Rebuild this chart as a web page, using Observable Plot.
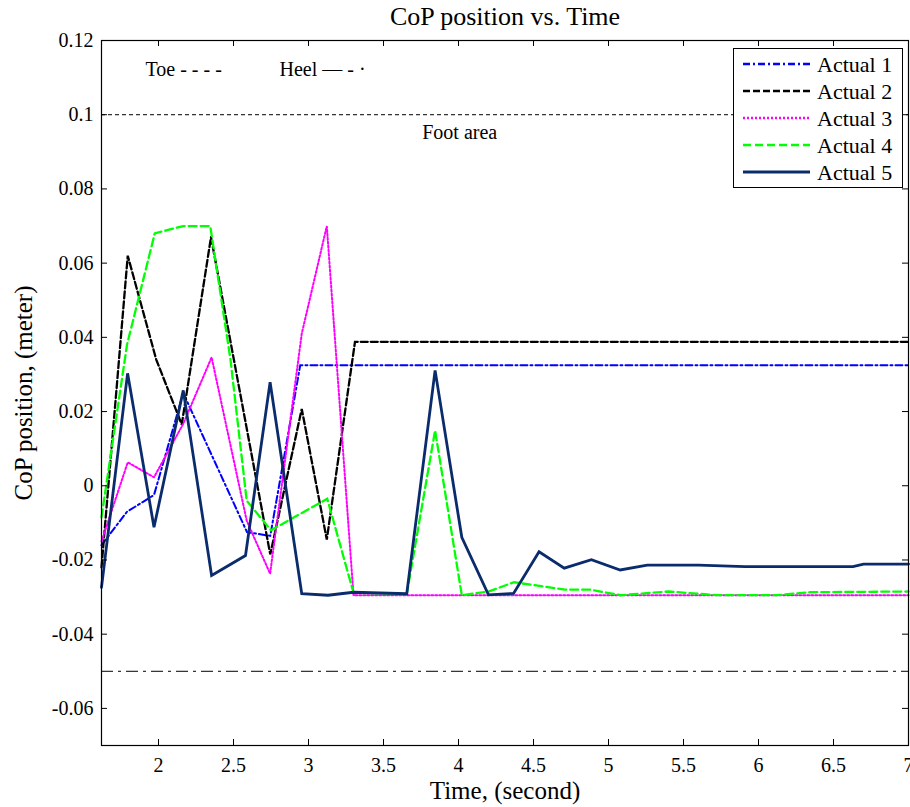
<!DOCTYPE html>
<html>
<head>
<meta charset="utf-8">
<script src="https://cdn.jsdelivr.net/npm/d3@7"></script>
<script src="https://cdn.jsdelivr.net/npm/@observablehq/plot@0.6"></script>
<style>
  body { margin: 0; background: #fff; }
  #wrap { position: relative; width: 910px; height: 807px; font-family: "Liberation Serif", "Times New Roman", serif; }
  #legend { position: absolute; left: 733px; top: 48px; }
</style>
</head>
<body>
<div id="wrap"><div id="chart"></div><div id="legend"></div></div>
<script>
// ---------- data ----------
const seriesNames = ["Actual 1", "Actual 2", "Actual 3", "Actual 4", "Actual 5"];

const t1 = [1.62, 1.79, 1.97, 2.165, 2.59, 2.745, 2.945, 7.0];
const y1 = [-0.016, -0.007, -0.0025, 0.025, -0.0125, -0.0135, 0.0325, 0.0325];

const t2 = [1.62, 1.795, 1.985, 2.155, 2.35, 2.745, 2.955, 3.122, 3.31, 7.0];
const y2 = [-0.022, 0.062, 0.034, 0.0165, 0.067, -0.0185, 0.0207, -0.0145, 0.0388, 0.0388];

const t3 = [1.62, 1.795, 1.97, 2.165, 2.354, 2.588, 2.744, 2.955, 3.122, 3.30, 7.0];
const y3 = [-0.015, 0.0063, 0.0023, 0.0167, 0.0346, -0.0094, -0.0237, 0.041, 0.070, -0.0295, -0.0295];

const t4 = [1.62, 1.79, 1.975, 2.165, 2.345, 2.48, 2.588, 2.75, 3.125, 3.30, 3.655, 3.844, 4.022, 4.2, 4.37, 4.54, 4.71, 4.88, 5.08, 5.4, 5.73, 6.12, 6.34, 7.0];
const y4 = [-0.0085, 0.038, 0.068, 0.070, 0.070, 0.034, -0.004, -0.012, -0.0035, -0.0288, -0.0292, 0.0149, -0.0295, -0.0285, -0.026, -0.027, -0.028, -0.028, -0.0295, -0.0285, -0.0295, -0.0295, -0.0287, -0.0285];

const t5 = [1.62, 1.794, 1.97, 2.165, 2.354, 2.58, 2.744, 2.955, 3.13, 3.30, 3.655, 3.844, 4.022, 4.2, 4.367, 4.537, 4.705, 4.886, 5.078, 5.258, 5.6, 5.91, 6.63, 6.7, 7.0];
const y5 = [-0.0274, 0.0303, -0.0112, 0.0257, -0.0242, -0.0188, 0.0279, -0.0291, -0.0295, -0.0287, -0.0291, 0.0311, -0.0139, -0.0294, -0.029, -0.0178, -0.0222, -0.0199, -0.0227, -0.0214, -0.0214, -0.0218, -0.0218, -0.0211, -0.0211];

const toeLevel = [0.1];
const heelLevel = [-0.05];

const xTicks = [2, 2.5, 3, 3.5, 4, 4.5, 5, 5.5, 6, 6.5, 7];
const yTicks = [-0.06, -0.04, -0.02, 0, 0.02, 0.04, 0.06, 0.08, 0.1, 0.12];

const noteText = ["Toe - - - -", "Heel \u2014 - \u00b7", "Foot area"];
const noteX = [1.913, 2.807, 3.758];
const noteY = [0.1121, 0.1121, 0.0953];

const titleText = "CoP position vs. Time";
const xLabel = "Time, (second)";
const yLabel = "CoP position, (meter)";

// ---------- styles ----------
const colors = ["#0000ff", "#000000", "#ff00ff", "#00ff00", "#0b2c6c"];
const dashes = ["7,3,2,3", "7,3", "2,2", "8,4", null];
const widths = [2, 2.3, 2, 2.3, 2.8];

const W = 910, H = 807, mL = 101, mR = 2, mT = 40, mB = 62;
const plotW = W - mL - mR, plotH = H - mT - mB;

const allT = [t1, t2, t3, t4, t5], allY = [y1, y2, y3, y4, y5];
const rows = [];
seriesNames.forEach((s, i) => allT[i].forEach((t, j) => rows.push({series: s, t, v: allY[i][j]})));
const notes = noteText.map((text, i) => ({text, x: noteX[i], y: noteY[i]}));
const fmt = d => String(+d.toFixed(2));

const marks = [
  Plot.ruleY(toeLevel, {y: d => d, stroke: "black", strokeWidth: 1, strokeDasharray: "4,3"}),
  Plot.ruleY(heelLevel, {y: d => d, stroke: "black", strokeWidth: 1, strokeDasharray: "12,5,3,5"}),
  ...seriesNames.map((s, i) => Plot.line(rows.filter(r => r.series === s), {
    x: "t", y: "v", stroke: colors[i], strokeWidth: widths[i],
    strokeDasharray: dashes[i] ?? undefined, strokeLinejoin: "miter", strokeMiterlimit: 3
  })),
  Plot.text(notes, {x: "x", y: "y", text: "text", textAnchor: "start", fontSize: 20, fill: "black"}),
  Plot.frame({stroke: "black", strokeWidth: 1.2}),
  Plot.tickX(xTicks, {x: d => d, stroke: "black", insetTop: plotH - 6}),
  Plot.tickX(xTicks, {x: d => d, stroke: "black", insetBottom: plotH - 6}),
  Plot.tickY(yTicks, {y: d => d, stroke: "black", insetRight: plotW - 6}),
  Plot.tickY(yTicks, {y: d => d, stroke: "black", insetLeft: plotW - 6}),
  Plot.axisX(xTicks, {tickSize: 0, tickPadding: 12, fontSize: 20, tickFormat: fmt, label: null}),
  Plot.axisY(yTicks, {tickSize: 0, tickPadding: 8, fontSize: 20, tickFormat: fmt, label: null}),
  Plot.text([titleText], {text: d => d, frameAnchor: "top", lineAnchor: "middle", textAnchor: "middle", dy: -24, fontSize: 26}),
  Plot.text([xLabel], {text: d => d, frameAnchor: "bottom", lineAnchor: "middle", textAnchor: "middle", dy: 45, fontSize: 25}),
  Plot.text([yLabel], {text: d => d, frameAnchor: "left", lineAnchor: "middle", textAnchor: "middle", dx: -78, rotate: -90, fontSize: 25})
];

const chart = Plot.plot({
  width: W, height: H,
  marginLeft: mL, marginRight: mR, marginTop: mT, marginBottom: mB,
  x: {domain: [1.62, 7]},
  y: {domain: [-0.07, 0.12]},
  style: {fontFamily: '"Liberation Serif", "Times New Roman", serif', fontSize: "20px", color: "black", background: "white", overflow: "visible"},
  marks
});
document.getElementById("chart").appendChild(chart);

// ---------- legend ----------
const lw = 170, lh = 140;
const leg = d3.select("#legend").append("svg").attr("width", lw).attr("height", lh)
  .style("font-family", '"Liberation Serif", "Times New Roman", serif');
leg.append("rect").attr("x", 0.5).attr("y", 0.5).attr("width", lw - 1).attr("height", lh - 1)
  .attr("fill", "white").attr("stroke", "black");
seriesNames.forEach((s, i) => {
  const cy = 16 + i * 27;
  leg.append("line").attr("x1", 10).attr("x2", 77).attr("y1", cy).attr("y2", cy)
    .attr("stroke", colors[i]).attr("stroke-width", widths[i] + 0.4)
    .attr("stroke-dasharray", dashes[i]);
  leg.append("text").attr("x", 84).attr("y", cy).attr("dy", "0.35em")
    .attr("font-size", 22).text(s);
});
</script>
</body>
</html>
